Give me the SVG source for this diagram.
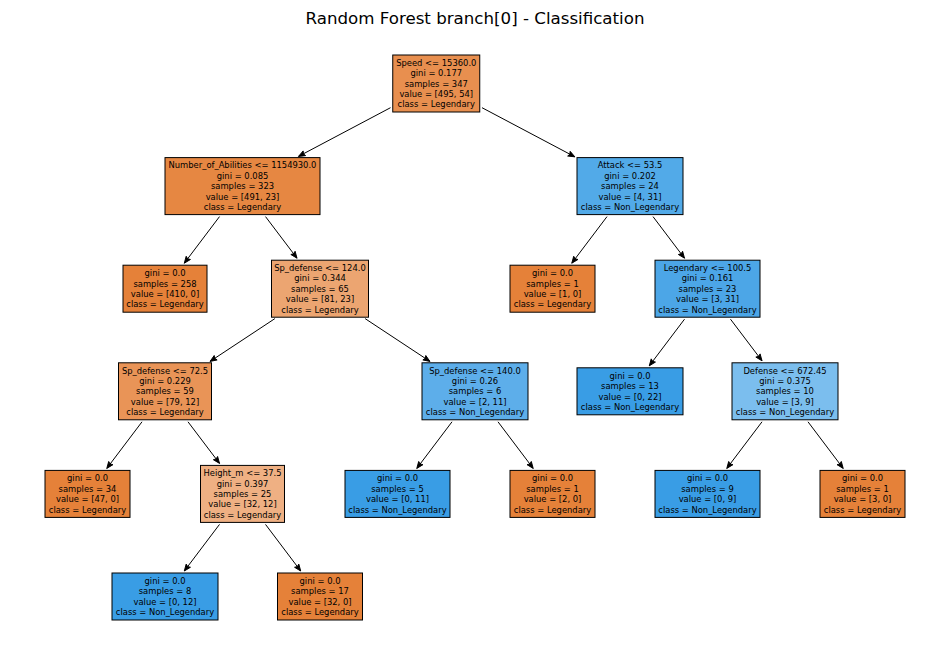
<svg xmlns="http://www.w3.org/2000/svg" width="950" height="658" viewBox="0 0 950 658">
<style>
.box{stroke:#000;stroke-width:1}
.t{font-family:"DejaVu Sans",sans-serif;font-size:8.4px;fill:#000;text-anchor:middle}
.title{font-family:"DejaVu Sans",sans-serif;font-size:16.67px;fill:#000;text-anchor:middle}
.e{stroke:#000;stroke-width:1;fill:none;marker-end:url(#ah)}
.o{fill:#e58139}.b{fill:#399de5}
</style>
<defs>
<marker id="ah" markerUnits="userSpaceOnUse" markerWidth="10" markerHeight="10" viewBox="-8 -4 9 8" refX="0" refY="0" orient="auto">
<path d="M-6,-2.4 L0,0 L-6,2.4 L-5,0 z" fill="#000" stroke="#000" stroke-width="0.8" stroke-linejoin="miter"/>
</marker>
</defs>
<rect width="950" height="658" fill="#fff"/>
<text class="title" x="475" y="23.5">Random Forest branch[0] - Classification</text>
<g id="connectors">
<line class="e" x1="390.5" y1="107.7" x2="298.5" y2="156.4"/>
<line class="e" x1="482" y1="107.7" x2="574.8" y2="156.8"/>
<line class="e" x1="219.5" y1="216.6" x2="184.3" y2="263.2"/>
<line class="e" x1="265.5" y1="216.6" x2="297" y2="258.2"/>
<line class="e" x1="274.9" y1="318.6" x2="210.1" y2="361.4"/>
<line class="e" x1="365.1" y1="318.6" x2="429.9" y2="361.4"/>
<line class="e" x1="142" y1="421.8" x2="106.8" y2="468.4"/>
<line class="e" x1="188" y1="421.8" x2="219.5" y2="463.4"/>
<line class="e" x1="219.5" y1="524.4" x2="184.3" y2="571"/>
<line class="e" x1="265.5" y1="524.4" x2="300.7" y2="571"/>
<line class="e" x1="452" y1="421.8" x2="416.8" y2="468.4"/>
<line class="e" x1="498" y1="421.8" x2="533.2" y2="468.4"/>
<line class="e" x1="607" y1="216.6" x2="571.8" y2="263.2"/>
<line class="e" x1="653" y1="216.6" x2="684.5" y2="258.2"/>
<line class="e" x1="684.5" y1="319.2" x2="649.3" y2="365.8"/>
<line class="e" x1="730.5" y1="319.2" x2="762" y2="360.8"/>
<line class="e" x1="762" y1="421.8" x2="726.8" y2="468.4"/>
<line class="e" x1="808" y1="421.8" x2="843.2" y2="468.4"/>
</g>
<g id="n0">
<rect class="box" x="392.75" y="55" width="87" height="57" fill="#e88f4f"/>
<text class="t" x="436.25" y="65.7">Speed &lt;= 15360.0</text>
<text class="t" x="436.25" y="76.1">gini = 0.177</text>
<text class="t" x="436.25" y="86.5">samples = 347</text>
<text class="t" x="436.25" y="96.9">value = [495, 54]</text>
<text class="t" x="436.25" y="107.3">class = Legendary</text>
</g>
<g id="n1">
<rect class="box" x="165" y="157.6" width="155" height="57" fill="#e68742"/>
<text class="t" x="242.5" y="168.3">Number_of_Abilities &lt;= 1154930.0</text>
<text class="t" x="242.5" y="178.7">gini = 0.085</text>
<text class="t" x="242.5" y="189.1">samples = 323</text>
<text class="t" x="242.5" y="199.5">value = [491, 23]</text>
<text class="t" x="242.5" y="209.9">class = Legendary</text>
</g>
<g id="n2">
<rect class="box" x="577" y="157.6" width="106" height="57" fill="#52aae8"/>
<text class="t" x="630" y="168.3">Attack &lt;= 53.5</text>
<text class="t" x="630" y="178.7">gini = 0.202</text>
<text class="t" x="630" y="189.1">samples = 24</text>
<text class="t" x="630" y="199.5">value = [4, 31]</text>
<text class="t" x="630" y="209.9">class = Non_Legendary</text>
</g>
<g id="n3">
<rect class="box o" x="123" y="265.2" width="84" height="47"/>
<text class="t" x="165" y="276.1">gini = 0.0</text>
<text class="t" x="165" y="286.5">samples = 258</text>
<text class="t" x="165" y="296.9">value = [410, 0]</text>
<text class="t" x="165" y="307.3">class = Legendary</text>
</g>
<g id="n4">
<rect class="box" x="271.5" y="260.2" width="97" height="57" fill="#eca571"/>
<text class="t" x="320" y="270.9">Sp_defense &lt;= 124.0</text>
<text class="t" x="320" y="281.3">gini = 0.344</text>
<text class="t" x="320" y="291.7">samples = 65</text>
<text class="t" x="320" y="302.1">value = [81, 23]</text>
<text class="t" x="320" y="312.5">class = Legendary</text>
</g>
<g id="n5">
<rect class="box o" x="510" y="265.2" width="85" height="47"/>
<text class="t" x="552.5" y="276.1">gini = 0.0</text>
<text class="t" x="552.5" y="286.5">samples = 1</text>
<text class="t" x="552.5" y="296.9">value = [1, 0]</text>
<text class="t" x="552.5" y="307.3">class = Legendary</text>
</g>
<g id="n6">
<rect class="box" x="655" y="260.2" width="105" height="57" fill="#4ca6e7"/>
<text class="t" x="707.5" y="270.9">Legendary &lt;= 100.5</text>
<text class="t" x="707.5" y="281.3">gini = 0.161</text>
<text class="t" x="707.5" y="291.7">samples = 23</text>
<text class="t" x="707.5" y="302.1">value = [3, 31]</text>
<text class="t" x="707.5" y="312.5">class = Non_Legendary</text>
</g>
<g id="n7">
<rect class="box" x="118.5" y="362.8" width="93" height="57" fill="#e99457"/>
<text class="t" x="165" y="373.5">Sp_defense &lt;= 72.5</text>
<text class="t" x="165" y="383.9">gini = 0.229</text>
<text class="t" x="165" y="394.3">samples = 59</text>
<text class="t" x="165" y="404.7">value = [79, 12]</text>
<text class="t" x="165" y="415.1">class = Legendary</text>
</g>
<g id="n8">
<rect class="box" x="422" y="362.8" width="106" height="57" fill="#5daeea"/>
<text class="t" x="475" y="373.5">Sp_defense &lt;= 140.0</text>
<text class="t" x="475" y="383.9">gini = 0.26</text>
<text class="t" x="475" y="394.3">samples = 6</text>
<text class="t" x="475" y="404.7">value = [2, 11]</text>
<text class="t" x="475" y="415.1">class = Non_Legendary</text>
</g>
<g id="n9">
<rect class="box b" x="577" y="367.8" width="106" height="47"/>
<text class="t" x="630" y="378.7">gini = 0.0</text>
<text class="t" x="630" y="389.1">samples = 13</text>
<text class="t" x="630" y="399.5">value = [0, 22]</text>
<text class="t" x="630" y="409.9">class = Non_Legendary</text>
</g>
<g id="n10">
<rect class="box" x="732" y="362.8" width="106" height="57" fill="#7bbeee"/>
<text class="t" x="785" y="373.5">Defense &lt;= 672.45</text>
<text class="t" x="785" y="383.9">gini = 0.375</text>
<text class="t" x="785" y="394.3">samples = 10</text>
<text class="t" x="785" y="404.7">value = [3, 9]</text>
<text class="t" x="785" y="415.1">class = Non_Legendary</text>
</g>
<g id="n11">
<rect class="box o" x="45" y="470.4" width="85" height="47"/>
<text class="t" x="87.5" y="481.3">gini = 0.0</text>
<text class="t" x="87.5" y="491.7">samples = 34</text>
<text class="t" x="87.5" y="502.1">value = [47, 0]</text>
<text class="t" x="87.5" y="512.5">class = Legendary</text>
</g>
<g id="n12">
<rect class="box" x="200.5" y="465.4" width="84" height="57" fill="#efb083"/>
<text class="t" x="242.5" y="476.1">Height_m &lt;= 37.5</text>
<text class="t" x="242.5" y="486.5">gini = 0.397</text>
<text class="t" x="242.5" y="496.9">samples = 25</text>
<text class="t" x="242.5" y="507.3">value = [32, 12]</text>
<text class="t" x="242.5" y="517.7">class = Legendary</text>
</g>
<g id="n13">
<rect class="box b" x="345" y="470.4" width="105" height="47"/>
<text class="t" x="397.5" y="481.3">gini = 0.0</text>
<text class="t" x="397.5" y="491.7">samples = 5</text>
<text class="t" x="397.5" y="502.1">value = [0, 11]</text>
<text class="t" x="397.5" y="512.5">class = Non_Legendary</text>
</g>
<g id="n14">
<rect class="box o" x="510" y="470.4" width="85" height="47"/>
<text class="t" x="552.5" y="481.3">gini = 0.0</text>
<text class="t" x="552.5" y="491.7">samples = 1</text>
<text class="t" x="552.5" y="502.1">value = [2, 0]</text>
<text class="t" x="552.5" y="512.5">class = Legendary</text>
</g>
<g id="n15">
<rect class="box b" x="655" y="470.4" width="105" height="47"/>
<text class="t" x="707.5" y="481.3">gini = 0.0</text>
<text class="t" x="707.5" y="491.7">samples = 9</text>
<text class="t" x="707.5" y="502.1">value = [0, 9]</text>
<text class="t" x="707.5" y="512.5">class = Non_Legendary</text>
</g>
<g id="n16">
<rect class="box o" x="820" y="470.4" width="85" height="47"/>
<text class="t" x="862.5" y="481.3">gini = 0.0</text>
<text class="t" x="862.5" y="491.7">samples = 1</text>
<text class="t" x="862.5" y="502.1">value = [3, 0]</text>
<text class="t" x="862.5" y="512.5">class = Legendary</text>
</g>
<g id="n17">
<rect class="box b" x="112" y="573" width="106" height="47"/>
<text class="t" x="165" y="583.9">gini = 0.0</text>
<text class="t" x="165" y="594.3">samples = 8</text>
<text class="t" x="165" y="604.7">value = [0, 12]</text>
<text class="t" x="165" y="615.1">class = Non_Legendary</text>
</g>
<g id="n18">
<rect class="box o" x="277.5" y="573" width="85" height="47"/>
<text class="t" x="320" y="583.9">gini = 0.0</text>
<text class="t" x="320" y="594.3">samples = 17</text>
<text class="t" x="320" y="604.7">value = [32, 0]</text>
<text class="t" x="320" y="615.1">class = Legendary</text>
</g>
</svg>
